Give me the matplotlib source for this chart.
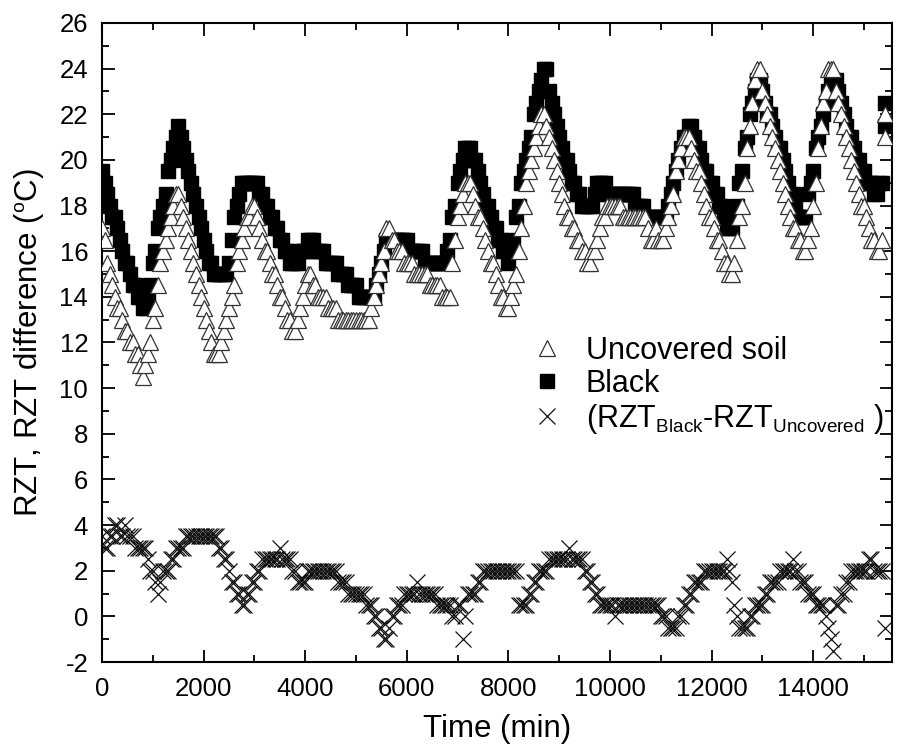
import numpy as np
import matplotlib
matplotlib.use("Agg")
import matplotlib.pyplot as plt
from matplotlib.ticker import MultipleLocator
try:
    import matplotlib._mathtext as _mt
    _mt.SHRINK_FACTOR = 0.62
except Exception:
    pass

plt.rcParams['font.family'] = ['Liberation Sans', 'DejaVu Sans']
plt.rcParams['mathtext.default'] = 'regular'
plt.rcParams['axes.unicode_minus'] = False

# time axis (min), one reading every 50 min, plus the final off-trend readings
time_main = np.arange(0, 15400, 50)
time_extra = [15420, 15420]

black = [19.5, 19, 18.5, 18, 17.5, 17.5, 17, 16.5, 16, 15.5, 15.5, 15, 14.5, 14.5, 14, 14, 13.5, 13.5, 14, 14.5,
         15.5, 16, 17, 17.5, 18, 18.5, 19.5, 20, 20.5, 21, 21.5, 21, 20.5, 20, 19.5, 19, 18.5, 18, 17.5, 17,
         16.5, 16, 15.5, 15.5, 15, 15, 15, 15, 15, 15, 15.5, 16.5, 17.5, 18, 18.5, 19, 19, 19, 19, 19,
         19, 19, 18.5, 18.5, 18, 18, 17.5, 17.5, 17, 17, 16.5, 16.5, 16, 16, 15.5, 15.5, 15.5, 15.5, 16, 16,
         16, 16.5, 16.5, 16.5, 16, 16, 16, 16, 15.5, 15.5, 15.5, 15.5, 15.5, 15, 15, 15, 15, 14.5, 14.5, 14.5,
         14.5, 14, 14, 14, 14, 14, 14, 14, 14.5, 15, 15.5, 16, 16.5, 16.5, 16.5, 16.5, 16.5, 16.5, 16.5, 16.5,
         16.5, 16, 16, 16, 16, 16, 16, 15.5, 15.5, 15.5, 15.5, 15.5, 15.5, 15.5, 15.5, 15.5, 16, 16.5, 17.5, 18,
         19, 19.5, 20, 20.5, 20.5, 20.5, 20, 20, 19.5, 19, 18.5, 18, 18, 17.5, 17, 17, 16.5, 16.5, 16, 16,
         15.5, 16, 16.5, 17.5, 18, 19, 19.5, 20, 20.5, 21, 22, 22.5, 23, 23.5, 24, 24, 23, 22.5, 22, 21.5,
         21, 20.5, 20, 20, 19.5, 19, 19, 18.5, 18.5, 18, 18, 18, 18, 18, 18.5, 19, 19, 19, 19, 18.5,
         18.5, 18.5, 18.5, 18.5, 18.5, 18.5, 18.5, 18.5, 18.5, 18.5, 18, 18, 18, 18, 17.5, 17.5, 17.5, 17.5, 17.5, 17.5,
         17.5, 17.5, 17.5, 18, 18.5, 19, 19.5, 20, 20.5, 21, 21, 21.5, 21.5, 21, 20.5, 20.5, 20, 19.5, 19.5, 19,
         19, 18.5, 18.5, 18, 18, 17.5, 17, 17, 17, 17.5, 18, 19, 19.5, 20.5, 21, 22, 22.5, 23, 23.5, 23.5,
         23, 22.5, 22, 22, 21.5, 21, 20.5, 20.5, 20, 19.5, 19, 18.5, 18.5, 18, 17.5, 17.5, 17.5, 17.5, 18.5, 19,
         19.5, 20.5, 21, 21.5, 22, 22.5, 23, 23.5, 23.5, 23.5, 23, 22.5, 22, 21.5, 21, 21, 20.5, 20, 20, 19.5,
         19.5, 19, 19, 19, 18.5, 18.5, 19, 19]
black_extra = [22.5, 21.5]

uncovered = [17, 16.5, 15.5, 15, 14.5, 14, 13.5, 13.5, 13, 12.5, 12.5, 12, 12, 11.5, 11.5, 11, 10.5, 11, 11.5, 12,
             13, 13.5, 14.5, 15.5, 16, 16.5, 17, 17.5, 18, 18.5, 18.5, 18, 17.5, 17, 16.5, 16, 15.5, 15, 14.5, 14,
             13.5, 13, 12.5, 12, 11.5, 11.5, 11.5, 12, 12.5, 13, 13.5, 14, 14.5, 15.5, 16, 16.5, 17, 17.5, 17.5, 18,
             18, 17.5, 17, 16.5, 16, 16, 15.5, 15, 15, 14.5, 14, 14, 13.5, 13, 13, 12.5, 12.5, 13, 13.5, 14,
             14.5, 15, 15, 14.5, 14.5, 14, 14, 14, 14, 13.5, 13.5, 13.5, 13.5, 13, 13, 13, 13, 13, 13, 13,
             13, 13, 13, 13, 13, 13, 13.5, 14, 14.5, 15, 15.5, 16, 17, 17, 16.5, 16.5, 16, 16, 16, 15.5,
             15.5, 15.5, 15.5, 15, 15, 15, 15, 15, 15, 14.5, 14.5, 14.5, 14.5, 14.5, 14, 14, 14, 14, 15.5, 16.5,
             17.5, 18, 18.5, 19, 19, 19, 18.5, 18, 17.5, 17.5, 17, 16.5, 16, 15.5, 15.5, 15, 14.5, 14, 14, 13.5,
             13.5, 14, 14.5, 15, 16, 17, 18, 19, 19.5, 20, 20.5, 21, 21.5, 22, 22, 21.5, 21, 20.5, 20, 19.5,
             19, 18.5, 18, 17.5, 17.5, 17, 17, 16.5, 16.5, 16, 16, 15.5, 15.5, 16, 16, 16.5, 17, 17.5, 17.5, 18,
             18, 18, 18, 18, 18, 17.5, 17.5, 17.5, 17.5, 17.5, 17.5, 17.5, 17.5, 17.5, 17.5, 17, 16.5, 16.5, 17, 16.5,
             16.5, 16.5, 17, 17.5, 18, 18.5, 19.5, 20, 20.5, 21, 21, 21, 20.5, 20, 19.5, 19.5, 19, 18.5, 18, 17.5,
             17.5, 17, 16.5, 16.5, 16, 15.5, 15.5, 15, 15, 15.5, 16.5, 17.5, 18, 19, 20.5, 21.5, 22.5, 23.5, 24, 24,
             23, 22.5, 22, 21.5, 21, 20.5, 20, 19.5, 19, 18.5, 18, 17.5, 17, 17, 16.5, 16.5, 16, 16, 16.5, 17,
             18, 19, 20.5, 21.5, 22.5, 23, 24, 24, 24, 23, 22.5, 22, 21.5, 21, 20.5, 20, 19.5, 19, 18.5, 18,
             18, 17.5, 17, 16.5, 16.5, 16, 16, 16.5]
uncovered_extra = [22, 21]

difference = [3.5, 3, 3, 3.5, 3.5, 4, 4, 3.5, 3.5, 4, 3.5, 3.5, 3.5, 3, 3, 3, 3, 3, 2.5, 2,
              2, 1.5, 1, 1.5, 2, 2, 2, 2.5, 2.5, 3, 3, 3, 3, 3.5, 3.5, 3.5, 3.5, 3.5, 3.5, 3.5,
              3.5, 3.5, 3.5, 3.5, 3.5, 3.5, 3, 3, 2.5, 2.5, 2, 1.5, 1.5, 1, 1, 0.5, 0.5, 1, 1, 1.5,
              1.5, 2, 2, 2.5, 2.5, 2.5, 2.5, 2.5, 2.5, 2.5, 3, 2.5, 2.5, 2.5, 2.5, 2, 2, 1.5, 1.5, 1.5,
              1.5, 2, 2, 2, 2, 2, 2, 2, 2, 2, 2, 2, 2, 1.5, 1.5, 1.5, 1.5, 1, 1, 1,
              1, 1, 1, 1, 0.5, 0.5, 0.5, 0, 0, -0.5, -0.5, -1, -1, -0.5, 0, 0, 0.5, 0.5, 0.5, 1,
              1, 1, 1, 1, 1.5, 1, 1, 1, 1, 1, 1, 1, 0.5, 0.5, 0.5, 0.5, 0.5, 0.5, 0, 0,
              0.5, 0.5, -1, 0, 1, 1, 1, 1, 1.5, 1.5, 2, 2, 2, 2, 2, 2, 2, 2, 2, 2,
              2, 2, 2, 2, 0.5, 0.5, 0.5, 0.5, 1, 1, 1.5, 1.5, 2, 2, 2, 2, 2.5, 2.5, 2.5, 2.5,
              2.5, 2.5, 2.5, 2.5, 3, 2.5, 2.5, 2.5, 2.5, 2.5, 2, 2, 1.5, 1.5, 1, 1, 0.5, 0.5, 0.5, 0.5,
              0.5, 0.5, 0, 0.5, 0.5, 0.5, 0.5, 0.5, 0.5, 0.5, 0.5, 0.5, 0.5, 0.5, 0.5, 0.5, 0.5, 0.5, 0.5, 0.5,
              0, 0, 0, -0.5, -0.5, -0.5, -0.5, 0, 0, 0.5, 0.5, 1, 1, 1.5, 1.5, 1.5, 1.5, 2, 2, 2,
              2, 2, 2, 2, 2, 2, 2.5, 2, 1.5, 0.5, 0, -0.5, -0.5, -0.5, -0.5, 0, 0, 0.5, 0.5, 0.5,
              0.5, 1, 1, 1.5, 1.5, 1.5, 1.5, 2, 2, 2, 2, 2, 2.5, 2, 2, 1.5, 1.5, 1.5, 1, 1,
              1, 0.5, 0.5, 0.5, 0.5, 0, -0.5, -1, -1.5, 0.5, 0.5, 1, 1, 1.5, 1.5, 2, 2, 2, 2, 2,
              2, 2, 2.5, 2.5, 2, 2, 2, 2]
difference_extra = [-0.5]

t_black = list(time_main) + time_extra
v_black = black + black_extra
t_unc = list(time_main) + time_extra
v_unc = uncovered + uncovered_extra
t_diff = list(time_main) + time_extra[:1]
v_diff = difference + difference_extra

fig = plt.figure(figsize=(8.99, 7.51), dpi=100)
ax = fig.add_axes([0.1135, 0.1185, 0.8785, 0.851])

ax.plot(t_black, v_black, linestyle='none', marker='s', markersize=10.5,
        markerfacecolor='black', markeredgecolor='black', zorder=2,
        label='Black')
ax.plot(t_unc, v_unc, linestyle='none', marker='^', markersize=12,
        markerfacecolor='white', markeredgecolor='#333333', markeredgewidth=0.9,
        zorder=3, label='Uncovered soil')
ax.plot(t_diff, v_diff, linestyle='none', marker='x', markersize=11,
        markeredgecolor='#111111', markeredgewidth=0.9, zorder=2,
        label='(RZT$_{Black}$-RZT$_{Uncovered}$ )')

ax.set_xlim(0, 15550)
ax.set_ylim(-2, 26)
ax.xaxis.set_major_locator(MultipleLocator(2000))
ax.xaxis.set_minor_locator(MultipleLocator(1000))
ax.yaxis.set_major_locator(MultipleLocator(2))
ax.yaxis.set_minor_locator(MultipleLocator(1))
ax.tick_params(which='both', direction='in', top=True, right=True,
               labelsize=18.5, width=1.3)
ax.tick_params(which='major', length=9)
ax.tick_params(which='minor', length=5)
ax.tick_params(axis='x', which='major', pad=11)
ax.tick_params(axis='y', which='major', pad=10)
for s in ax.spines.values():
    s.set_linewidth(1.5)

ax.set_xlabel('Time (min)', fontsize=22.5, labelpad=9)
ax.set_ylabel('RZT, RZT difference ($^{o}$C)', fontsize=22.5, labelpad=10)

handles, labels = ax.get_legend_handles_labels()
order = [1, 0, 2]
leg = ax.legend([handles[i] for i in order], [labels[i] for i in order],
                loc='center left', bbox_to_anchor=(0.506, 0.432), frameon=False,
                fontsize=22, handletextpad=0.65, labelspacing=0.1,
                handlelength=1.2, borderpad=0.4, markerscale=1.0)

fig.savefig('out.png', dpi=100)
